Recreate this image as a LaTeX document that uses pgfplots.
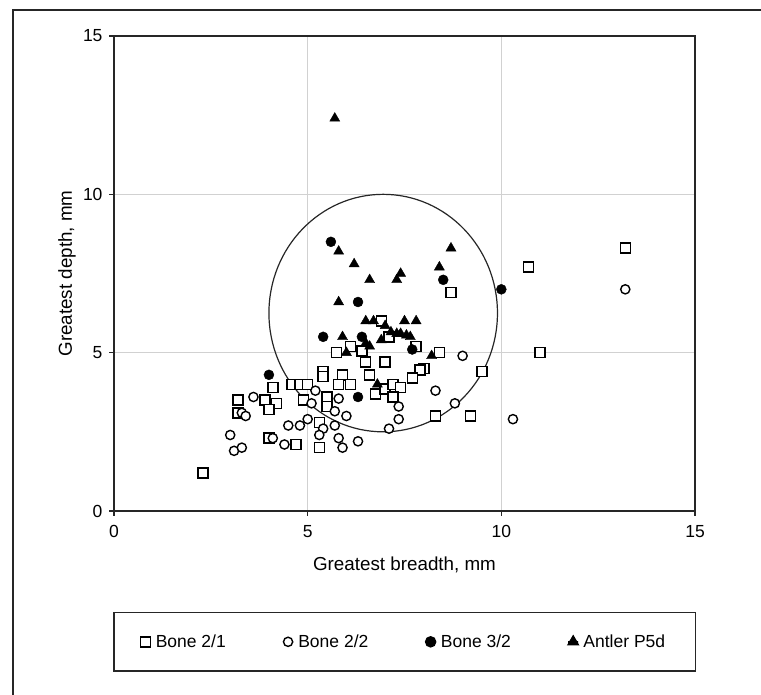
\documentclass[border=0pt]{standalone}
\usepackage{fontspec}
\setmainfont{Liberation Sans}
\usepackage{pgfplots}
\pgfplotsset{compat=1.18}
\begin{document}
\begin{tikzpicture}[font=\fontsize{17.5pt}{21pt}\selectfont, x=1pt, y=1pt]
\useasboundingbox (0,0) rectangle (761,695);
\draw[line width=1.5pt, black!85] (13,0) -- (13,685) -- (761,685);
\begin{axis}[
  at={(114pt,184pt)}, anchor=south west,
  scale only axis, width=581pt, height=475pt,
  xmin=0,xmax=15,ymin=0,ymax=15,
  xtick={0,5,10,15}, ytick={0,5,10,15},
  tick pos=left, tick align=outside, major tick length=5pt,
  axis line style={line width=1.5pt, black!85},
  every tick/.style={line width=1.5pt, black!85},
  grid=major, major grid style={line width=0.8pt, black!18},
  /pgf/number format/assume math mode=true,
  xticklabel style={yshift=-6pt, font=\fontsize{17.5pt}{21pt}\selectfont},
  yticklabel style={xshift=-3pt, font=\fontsize{17.5pt}{21pt}\selectfont},
  xlabel={Greatest breadth, mm}, ylabel={Greatest depth, mm},
  xlabel style={at={(axis description cs:0.5,-0.114)}, anchor=center, font=\fontsize{18.8pt}{22pt}\selectfont},
  ylabel style={at={(axis description cs:-0.081,0.5)}, anchor=center, font=\fontsize{18.8pt}{22pt}\selectfont},
  legend columns=4,
  legend image code/.code={\path (-5pt,0pt) rectangle (5pt,0pt); \draw[#1] plot coordinates {(0pt,0pt)};},
  legend style={at={(axis description cs:-0.0017,-0.2126)}, anchor=north west,
    draw=black!85, line width=1.5pt, inner xsep=26pt, inner ysep=20pt,
    nodes={inner xsep=4.5pt},
    /tikz/every even column/.append style={column sep=52pt},
    /tikz/every odd column/.append style={column sep=0pt}},
]
\draw[line width=1.2pt, black!85] (axis cs:6.95,6.25) ellipse [x radius=2.95, y radius=3.75];
% Bone 2/1
\addplot[only marks, mark=square*, mark size=5pt, mark options={fill=white, draw=black, line width=1.4pt}] coordinates {
(2.3,1.2) (3.2,3.5) (3.2,3.1) (4.1,3.9) (3.9,3.5) (4.2,3.4) (4.0,3.2) (4.6,4.0) (4.8,4.0) (5.0,4.0)
(4.9,3.5) (5.4,4.4) (5.4,4.25) (5.5,3.6) (5.5,3.3) (5.3,2.8) (5.3,2.0) (4.0,2.3) (4.7,2.1) (5.75,5.0)
(6.1,5.2) (6.4,5.05) (5.9,4.3) (5.8,4.0) (6.1,4.0) (6.6,4.3) (6.5,4.7) (7.0,4.7) (6.9,6.0) (7.1,5.5)
(7.8,5.2) (8.4,5.0) (8.0,4.5) (7.9,4.45) (7.7,4.2) (9.5,4.4) (6.75,3.7) (7.0,3.85) (7.2,4.0) (7.4,3.9)
(7.2,3.6) (8.3,3.0) (9.2,3.0) (8.7,6.9) (13.2,8.3) (10.7,7.7) (11.0,5.0)
};
\addlegendentry{Bone 2/1}
% Bone 2/2
\addplot[only marks, mark=*, mark size=4.6pt, mark options={fill=white, draw=black, line width=1.4pt}] coordinates {
(3.3,3.1) (3.4,3.0) (3.6,3.6) (5.2,3.8) (5.1,3.4) (4.5,2.7) (4.8,2.7) (5.0,2.9) (5.4,2.6) (5.3,2.4)
(4.1,2.3) (4.4,2.1) (3.0,2.4) (3.1,1.9) (3.3,2.0) (5.8,3.55) (5.7,3.15) (6.0,3.0) (7.35,3.3) (7.35,2.9)
(7.1,2.6) (8.3,3.8) (8.8,3.4) (9.0,4.9) (5.7,2.7) (5.8,2.3) (5.9,2.0) (6.3,2.2) (10.3,2.9) (13.2,7.0)
};
\addlegendentry{Bone 2/2}
% Bone 3/2
\addplot[only marks, mark=*, mark size=5pt, mark options={fill=black, draw=black}] coordinates {
(4.0,4.3) (5.4,5.5) (6.4,5.5) (5.6,8.5) (6.3,6.6) (8.5,7.3) (10.0,7.0) (7.7,5.1) (6.3,3.6)
};
\addlegendentry{Bone 3/2}
% Antler P5d
\addplot[only marks, mark=triangle*, mark size=5.8pt, mark options={fill=black, draw=black}] coordinates {
(5.7,12.4) (5.8,8.2) (6.2,7.8) (6.6,7.3) (7.4,7.5) (7.3,7.3) (8.7,8.3) (8.4,7.7) (5.8,6.6) (6.5,6.0)
(6.7,6.0) (7.0,5.85) (7.5,6.0) (7.8,6.0) (7.15,5.65) (7.3,5.6) (7.4,5.6) (7.55,5.55) (7.65,5.5) (6.9,5.4)
(5.9,5.5) (6.5,5.3) (6.6,5.2) (6.0,5.0) (8.2,4.9) (6.8,4.0)
};
\addlegendentry{Antler P5d}
\end{axis}
\end{tikzpicture}
\end{document}
